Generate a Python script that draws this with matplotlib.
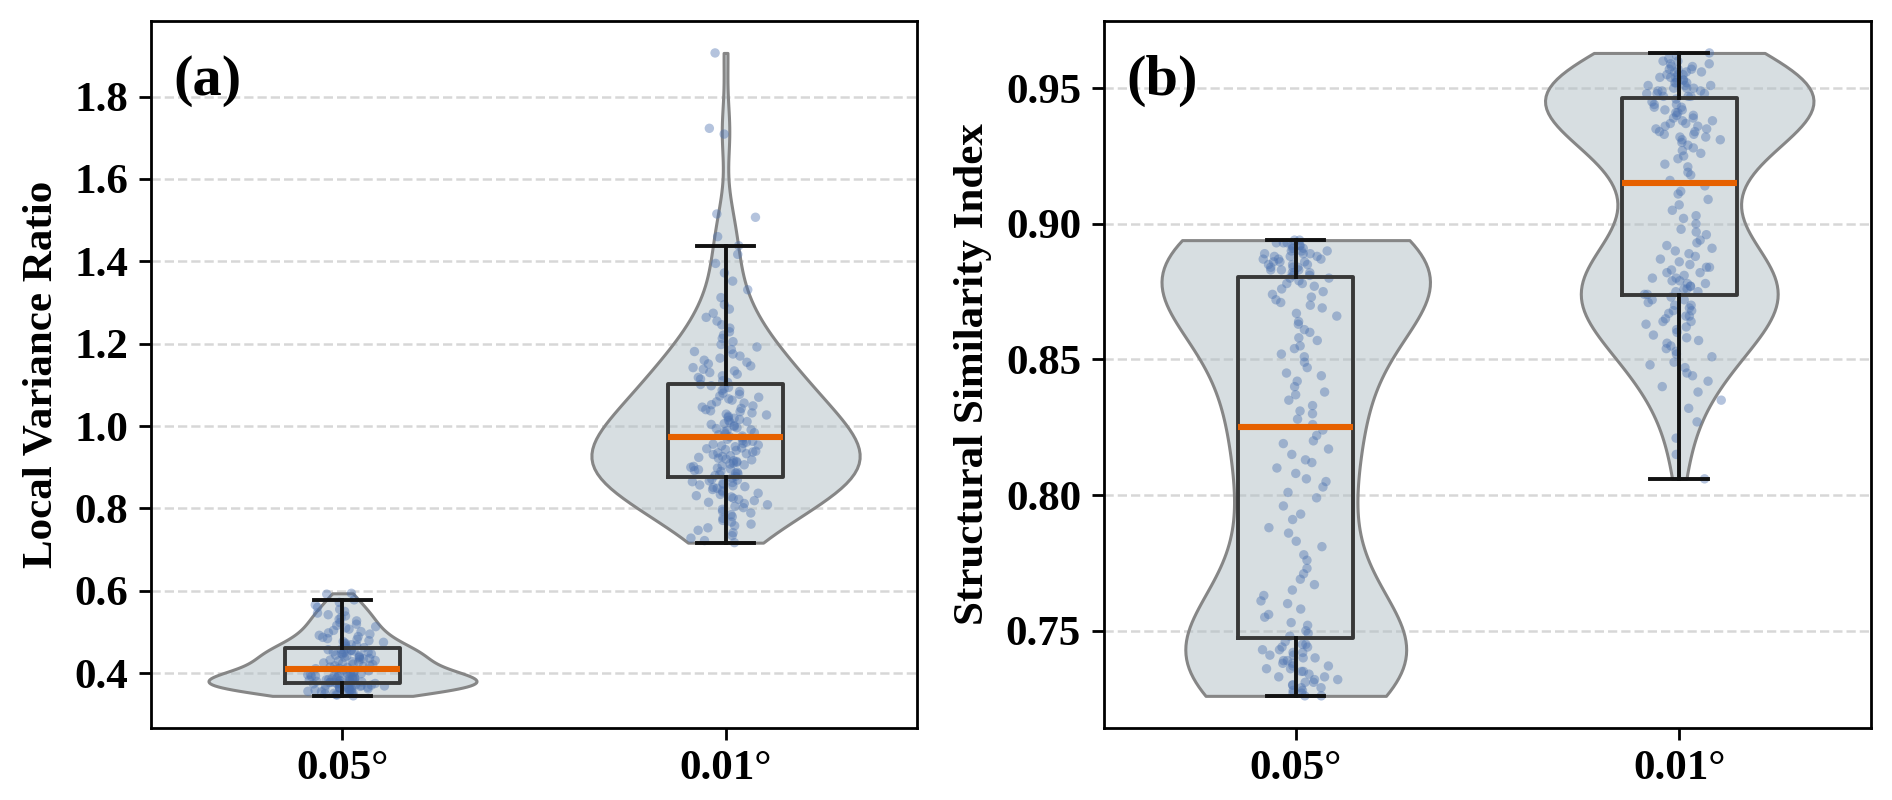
import numpy as np
import matplotlib
matplotlib.use("Agg")
import matplotlib.pyplot as plt
from matplotlib.ticker import MultipleLocator, FormatStrFormatter

# ---------------- data ----------------
categories = ["0.05\u00b0", "0.01\u00b0"]

lvr_005 = [
    0.345, 0.347, 0.348, 0.350, 0.351, 0.352, 0.353, 0.354, 0.355, 0.356, 0.357, 0.358, 0.359, 0.360,
    0.361, 0.362, 0.362, 0.363, 0.364, 0.364, 0.365, 0.366, 0.366, 0.367, 0.368, 0.368, 0.369, 0.370,
    0.370, 0.371, 0.372, 0.372, 0.373, 0.374, 0.374, 0.375, 0.375, 0.376,
    0.377, 0.378, 0.378, 0.379, 0.380, 0.380, 0.381, 0.382, 0.382, 0.383, 0.384, 0.384, 0.385, 0.386,
    0.386, 0.387, 0.388, 0.388, 0.389, 0.390,
    0.391, 0.392, 0.393, 0.394, 0.395, 0.396, 0.397, 0.398, 0.399, 0.400, 0.401, 0.402, 0.403, 0.405,
    0.406, 0.408, 0.409,
    0.411, 0.412, 0.414, 0.415, 0.416, 0.418, 0.419, 0.421, 0.422, 0.424, 0.425, 0.427, 0.428, 0.430,
    0.431, 0.432, 0.434, 0.435, 0.436, 0.438, 0.439, 0.440, 0.442, 0.443, 0.444, 0.446, 0.447, 0.448,
    0.450, 0.451, 0.452, 0.454, 0.455, 0.456, 0.457, 0.458, 0.460,
    0.462, 0.466, 0.468, 0.469, 0.471, 0.473, 0.475, 0.477, 0.479, 0.482, 0.484, 0.487, 0.489, 0.492,
    0.495, 0.498,
    0.501, 0.504, 0.507, 0.510, 0.513, 0.516, 0.519, 0.523, 0.527, 0.531, 0.535, 0.539,
    0.542, 0.546, 0.550, 0.555, 0.560, 0.566, 0.572, 0.578,
    0.592, 0.594,
]

lvr_001 = [
    0.717, 0.722, 0.728, 0.734, 0.741, 0.747,
    0.753, 0.758, 0.762, 0.767, 0.771, 0.776, 0.780, 0.785, 0.789, 0.793, 0.798,
    0.802, 0.805, 0.809, 0.812, 0.815, 0.819, 0.822, 0.825, 0.828, 0.831, 0.834, 0.837, 0.840, 0.843,
    0.846, 0.849,
    0.851, 0.853, 0.855, 0.857, 0.859, 0.861, 0.863, 0.865, 0.867, 0.869, 0.871, 0.874,
    0.878, 0.880, 0.882, 0.884, 0.886, 0.888, 0.890, 0.892, 0.894, 0.896, 0.898, 0.900, 0.902, 0.904,
    0.906, 0.908, 0.910, 0.912, 0.914, 0.916, 0.918, 0.920, 0.922, 0.924, 0.926, 0.928, 0.931, 0.933,
    0.935, 0.937, 0.939, 0.941, 0.943, 0.945, 0.947, 0.950, 0.952, 0.954, 0.956, 0.958, 0.961, 0.963,
    0.965, 0.968, 0.971,
    0.974, 0.976, 0.979, 0.981, 0.984, 0.986, 0.989, 0.991, 0.994, 0.996, 0.999, 1.001, 1.004, 1.006,
    1.009, 1.011, 1.014, 1.016, 1.019, 1.021, 1.024, 1.027, 1.029, 1.032, 1.035, 1.037, 1.040, 1.043,
    1.046, 1.049,
    1.052, 1.056, 1.059, 1.063, 1.066, 1.070, 1.073, 1.077, 1.080, 1.084, 1.087, 1.091, 1.094, 1.098,
    1.101,
    1.106, 1.110, 1.114, 1.118, 1.122, 1.126, 1.130, 1.134, 1.138, 1.142, 1.146, 1.151, 1.155, 1.160,
    1.165, 1.170, 1.175, 1.181, 1.186, 1.192, 1.198,
    1.205, 1.213, 1.221, 1.229, 1.238, 1.246, 1.255, 1.264, 1.274, 1.284, 1.295,
    1.312, 1.331, 1.352, 1.372, 1.395, 1.417, 1.438,
    1.460, 1.507, 1.515,
    1.709, 1.723, 1.906,
]

ssim_005 = [
    0.726, 0.726, 0.727, 0.727, 0.728, 0.728, 0.729, 0.729, 0.730, 0.730, 0.731, 0.731, 0.732, 0.732,
    0.733, 0.733, 0.734, 0.735,
    0.735, 0.736, 0.736, 0.737, 0.737, 0.738, 0.738, 0.739, 0.739, 0.740, 0.740, 0.741, 0.741, 0.742,
    0.742, 0.743, 0.743, 0.744, 0.744, 0.745, 0.745, 0.746,
    0.748, 0.749, 0.750, 0.752, 0.753, 0.755, 0.756, 0.758, 0.760, 0.761, 0.763, 0.765, 0.767, 0.769,
    0.771, 0.773, 0.776, 0.778, 0.781, 0.783, 0.786, 0.788, 0.791, 0.793, 0.796, 0.799,
    0.801, 0.803, 0.805, 0.806, 0.808, 0.810, 0.812, 0.813, 0.815, 0.817, 0.819, 0.820, 0.822, 0.824,
    0.826, 0.828, 0.830, 0.831, 0.833, 0.835, 0.837, 0.838, 0.840, 0.842, 0.844, 0.845, 0.847, 0.849,
    0.851, 0.852, 0.854, 0.855, 0.857, 0.858, 0.860, 0.861, 0.863, 0.864, 0.866, 0.867, 0.869,
    0.870, 0.871, 0.872, 0.873, 0.874, 0.875, 0.876, 0.877, 0.878, 0.878, 0.879, 0.880, 0.880,
    0.881, 0.881, 0.882, 0.882, 0.882, 0.883, 0.883, 0.883, 0.884, 0.884, 0.884, 0.885, 0.885, 0.885,
    0.886, 0.886, 0.886, 0.887, 0.887, 0.887, 0.888, 0.888, 0.888, 0.889, 0.889, 0.889, 0.890, 0.890,
    0.890, 0.891, 0.891, 0.891, 0.892, 0.892, 0.892, 0.893, 0.893, 0.893, 0.894, 0.894,
]

ssim_001 = [
    0.806, 0.815, 0.821, 0.827,
    0.832, 0.835, 0.838, 0.840, 0.842, 0.844, 0.845, 0.847, 0.848, 0.849,
    0.851, 0.852, 0.853, 0.854, 0.855, 0.856, 0.857, 0.858, 0.859, 0.860, 0.861, 0.862, 0.863, 0.864,
    0.864, 0.865, 0.866, 0.866, 0.867, 0.868, 0.868, 0.869, 0.870, 0.870, 0.871, 0.872, 0.872, 0.873,
    0.874, 0.874, 0.875, 0.875, 0.876, 0.876, 0.877, 0.877, 0.878, 0.878, 0.879, 0.879, 0.880, 0.880,
    0.881, 0.882, 0.882, 0.883, 0.884, 0.884, 0.885, 0.886, 0.887, 0.888, 0.889, 0.890,
    0.891, 0.892, 0.893, 0.894, 0.896, 0.897, 0.898, 0.900, 0.902, 0.903, 0.905, 0.907, 0.909, 0.911,
    0.912, 0.914,
    0.916, 0.918, 0.919, 0.921, 0.922, 0.924, 0.925, 0.926, 0.927, 0.928, 0.929,
    0.930, 0.931, 0.931, 0.932, 0.932, 0.933, 0.933, 0.934, 0.934, 0.935, 0.935, 0.936, 0.936, 0.937,
    0.937, 0.938, 0.938, 0.939, 0.939, 0.940, 0.940, 0.941, 0.941, 0.942, 0.942, 0.943, 0.943, 0.944,
    0.944, 0.945, 0.946,
    0.947, 0.947, 0.947, 0.948, 0.948, 0.948, 0.949, 0.949, 0.949, 0.950, 0.950, 0.950, 0.951, 0.951,
    0.951, 0.952, 0.952, 0.952, 0.953, 0.953, 0.953, 0.954, 0.954, 0.954, 0.955, 0.955, 0.955, 0.956,
    0.956, 0.956, 0.957, 0.957, 0.957, 0.958, 0.958, 0.959, 0.959, 0.960, 0.960, 0.961, 0.962, 0.963,
]

panel_labels = ["(a)", "(b)"]
y_labels = ["Local Variance Ratio", "Structural Similarity Index"]

# ---------------- style ----------------
plt.rcParams["font.family"] = ["Liberation Serif", "DejaVu Serif"]
plt.rcParams["font.weight"] = "bold"
plt.rcParams["axes.labelweight"] = "bold"

VIOLIN_FACE = (0.690, 0.745, 0.773, 0.5)
VIOLIN_EDGE = "#868686"
POINT_COLOR = "#4C72B0"
MEDIAN_COLOR = "#E66100"

fig = plt.figure(figsize=(18.92, 8.0), dpi=100)
axes = [fig.add_axes([0.0798, 0.09, 0.4049, 0.884]),
        fig.add_axes([0.5835, 0.09, 0.4054, 0.884])]

panels = [(lvr_005, lvr_001), (ssim_005, ssim_001)]
positions = [1, 2]


def jitter(n, spread=0.11, seed=0.0):
    # deterministic, scrambled horizontal offsets (triangular shape)
    i = np.arange(n) + 1.0 + seed
    u1 = np.modf(np.abs(np.sin(i * 12.9898) * 43758.5453))[0]
    u2 = np.modf(np.abs(np.sin(i * 78.233 + 3.1) * 24634.6345))[0]
    return (u1 + u2 - 1.0) * spread


for k, ax in enumerate(axes):
    data = [np.array(d) for d in panels[k]]
    ax.set_axisbelow(True)
    ax.grid(axis="y", linestyle="--", color="#b0b0b0", alpha=0.5, linewidth=1.8)

    vp = ax.violinplot(data, positions=positions, widths=0.7,
                       showextrema=False, showmedians=False, showmeans=False)
    for body in vp["bodies"]:
        body.set_alpha(None)
        body.set_facecolor(VIOLIN_FACE)
        body.set_edgecolor(VIOLIN_EDGE)
        body.set_linewidth(2.2)
        body.set_zorder(1)

    for j, (p, d) in enumerate(zip(positions, data)):
        ax.scatter(p + jitter(len(d), seed=7.0 * (2 * k + j)), d, s=46,
                   color=POINT_COLOR, alpha=0.42, edgecolors="none", zorder=2)

    ax.boxplot(data, positions=positions, widths=0.3, showfliers=False,
               patch_artist=False, zorder=3,
               boxprops=dict(color="#383838", linewidth=2.8),
               whiskerprops=dict(color="#111111", linewidth=2.8),
               capprops=dict(color="#111111", linewidth=2.8),
               medianprops=dict(color=MEDIAN_COLOR, linewidth=4.4))

    ax.set_xlim(0.5, 2.5)
    ax.set_xticks(positions)
    ax.set_xticklabels(categories)
    if k == 0:
        ax.yaxis.set_major_locator(MultipleLocator(0.2))
        ax.yaxis.set_major_formatter(FormatStrFormatter("%.1f"))
    else:
        ax.yaxis.set_major_locator(MultipleLocator(0.05))
        ax.yaxis.set_major_formatter(FormatStrFormatter("%.2f"))

    ax.set_ylabel(y_labels[k], fontsize=31, fontweight="bold", labelpad=10)
    ax.tick_params(axis="both", labelsize=31, length=8.5, width=2)
    ax.tick_params(axis="y", pad=8)
    ax.tick_params(axis="x", pad=7)
    for lab in ax.get_xticklabels() + ax.get_yticklabels():
        lab.set_fontweight("bold")
    for sp in ax.spines.values():
        sp.set_linewidth(2)
        sp.set_color("black")

    ax.text(0.029, 0.952, panel_labels[k], transform=ax.transAxes,
            fontsize=42, fontweight="bold", va="top", ha="left")

fig.savefig("out.png", dpi=100)
